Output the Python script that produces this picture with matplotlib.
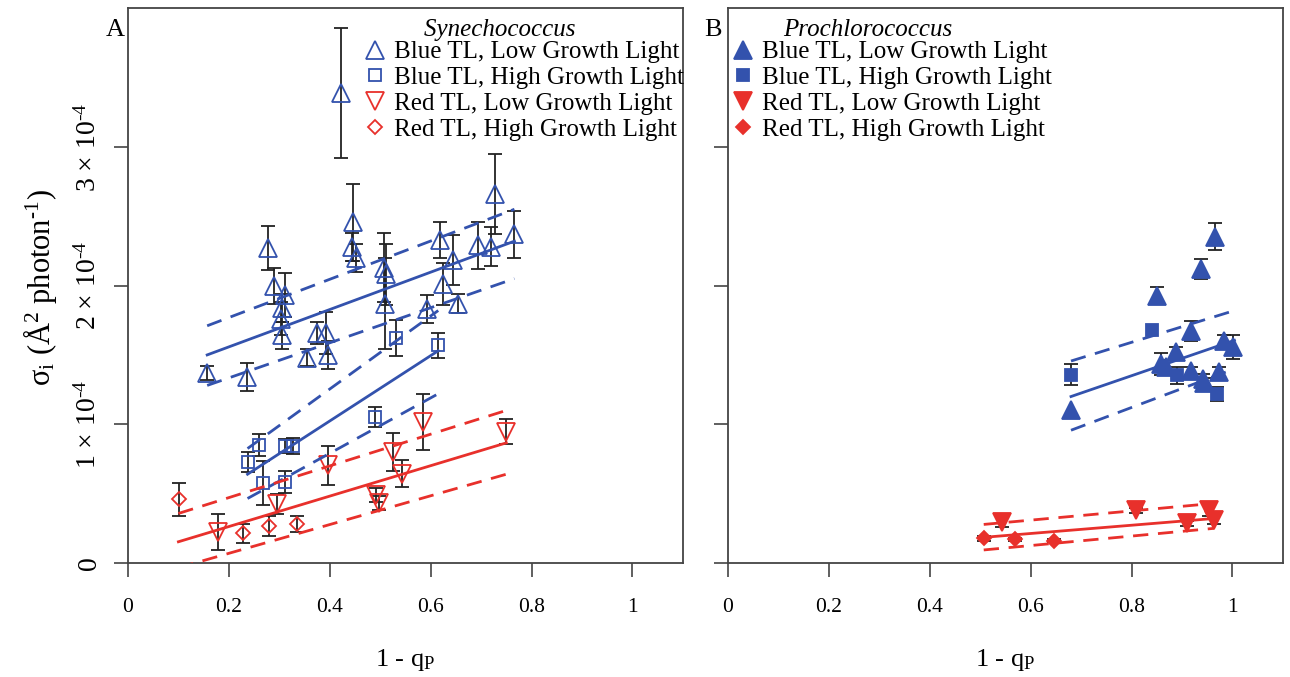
import numpy as np
import matplotlib
matplotlib.use('Agg')
import matplotlib.pyplot as plt
from matplotlib.lines import Line2D

plt.rcParams['font.family'] = ['Liberation Serif', 'DejaVu Serif']
plt.rcParams['mathtext.fontset'] = 'custom'
plt.rcParams['mathtext.rm'] = 'Liberation Serif'
plt.rcParams['mathtext.it'] = 'Liberation Serif:italic'
plt.rcParams['mathtext.default'] = 'regular'

BLUE = '#3352ad'
RED = '#e8302b'
EBAR = '#222222'
AXC = '#444444'

# values of sigma_i are in units of 1e-4 A^2 photon^-1

# --- panel A, Synechococcus ---
a_blue_low_x = [0.157, 0.235, 0.277, 0.289, 0.311, 0.306, 0.304, 0.306, 0.354, 0.375,
                0.392, 0.397, 0.422, 0.446, 0.444, 0.452, 0.508, 0.512, 0.509, 0.593,
                0.618, 0.624, 0.644, 0.654, 0.694, 0.720, 0.727, 0.766]
a_blue_low_y = [1.37, 1.34, 2.27, 2.00, 1.93, 1.84, 1.76, 1.64, 1.48, 1.66,
                1.66, 1.50, 3.39, 2.455, 2.28, 2.20, 2.13, 2.08, 1.87, 1.83,
                2.33, 2.01, 2.185, 1.87, 2.29, 2.28, 2.66, 2.37]
a_blue_low_err = [0.05, 0.10, 0.16, 0.13, 0.16, 0.10, 0.12, 0.10, 0.06, 0.08,
                  0.15, 0.10, 0.47, 0.28, 0.10, 0.10, 0.25, 0.22, 0.33, 0.10,
                  0.13, 0.15, 0.18, 0.07, 0.17, 0.14, 0.29, 0.17]

a_blue_high_x = [0.237, 0.259, 0.267, 0.311, 0.327, 0.311, 0.489, 0.531, 0.615]
a_blue_high_y = [0.729, 0.849, 0.578, 0.842, 0.844, 0.585, 1.053, 1.62, 1.57]
a_blue_high_err = [0.07, 0.08, 0.16, 0.05, 0.06, 0.08, 0.075, 0.13, 0.09]

a_red_low_x = [0.178, 0.296, 0.397, 0.491, 0.498, 0.525, 0.544, 0.585, 0.750]
a_red_low_y = [0.225, 0.424, 0.705, 0.489, 0.430, 0.800, 0.645, 1.017, 0.945]
a_red_low_err = [0.13, 0.07, 0.14, 0.05, 0.05, 0.135, 0.10, 0.20, 0.09]

a_red_high_x = [0.102, 0.228, 0.280, 0.335]
a_red_high_y = [0.46, 0.214, 0.268, 0.28]
a_red_high_err = [0.12, 0.07, 0.07, 0.06]

# regression lines: x ends, fit, upper and lower band
a_fit_blue_low = dict(x=[0.157, 0.766], fit=[1.50, 2.32], up=[1.71, 2.55], lo=[1.28, 2.05])
a_fit_blue_high = dict(x=[0.237, 0.615], fit=[0.64, 1.53], up=[0.825, 1.82], lo=[0.465, 1.22])
a_fit_red = dict(x=[0.10, 0.75], fit=[0.153, 0.866], up=[0.357, 1.10], lo=[-0.034, 0.64])

# --- panel B, Prochlorococcus ---
b_blue_low_x = [0.966, 0.937, 0.851, 0.918, 0.888, 0.984, 1.002, 0.859, 0.869, 0.918,
                0.941, 0.944, 0.974, 0.680]
b_blue_low_y = [2.353, 2.12, 1.928, 1.671, 1.52, 1.60, 1.557, 1.437, 1.413, 1.384,
                1.329, 1.30, 1.376, 1.106]
b_blue_low_err = [0.10, 0.07, 0.063, 0.07, 0.04, 0.04, 0.085, 0.08, 0.05, 0.03,
                  0.03, 0.03, 0.04, 0.0]

b_blue_high_x = [0.680, 0.840, 0.890, 0.970]
b_blue_high_y = [1.358, 1.68, 1.353, 1.22]
b_blue_high_err = [0.075, 0.0, 0.06, 0.05]

b_red_low_x = [0.543, 0.809, 0.910, 0.954, 0.964]
b_red_low_y = [0.297, 0.38, 0.286, 0.38, 0.31]
b_red_low_err = [0.04, 0.02, 0.02, 0.04, 0.03]

b_red_high_x = [0.507, 0.568, 0.647]
b_red_high_y = [0.178, 0.17, 0.16]
b_red_high_err = [0.02, 0.01, 0.01]

b_fit_blue = dict(x=[0.68, 1.004], fit=[1.20, 1.605], up=[1.456, 1.82], lo=[0.957, 1.40])
b_fit_red = dict(x=[0.507, 0.964], fit=[0.185, 0.321], up=[0.278, 0.43], lo=[0.094, 0.25])

legend_labels = ['Blue TL, Low Growth Light', 'Blue TL, High Growth Light',
                 'Red TL, Low Growth Light', 'Red TL, High Growth Light']
x_ticks = [0, 0.2, 0.4, 0.6, 0.8, 1]
x_ticklabels = ['0', '0.2', '0.4', '0.6', '0.8', '1']
y_ticks = [0, 1, 2, 3]
y_ticklabels = ['0', '1 × 10$^{\u20104}$', '2 × 10$^{\u20104}$', '3 × 10$^{\u20104}$']

styles = [('^', BLUE, 12.5), ('s', BLUE, 8.5), ('v', RED, 12.5), ('D', RED, 7.0)]


def draw_series(ax, x, y, err, style, filled):
    marker, color, ms = style
    x = np.asarray(x)
    y = np.asarray(y)
    err = np.asarray(err)
    m = err > 0
    ax.errorbar(x[m], y[m], yerr=err[m], fmt='none', ecolor=EBAR, elinewidth=1.3,
                capsize=5, capthick=1.3, zorder=2)
    ax.plot(x, y, linestyle='none', marker=marker, ms=ms,
            mfc=color if filled else 'none', mec=color, mew=1.3, zorder=3)


def draw_fit(ax, f, color):
    ax.plot(f['x'], f['fit'], color=color, lw=2.0, zorder=4)
    for k in ('up', 'lo'):
        ax.plot(f['x'], f[k], color=color, lw=2.0, dashes=(5.5, 3.5), zorder=4)


def setup(ax, show_ylabels):
    ax.set_xlim(0, 1.1)
    ax.set_ylim(0, 4)
    ax.set_xticks(x_ticks)
    ax.set_xticklabels(x_ticklabels, fontsize=15.5)
    ax.set_yticks(y_ticks)
    if show_ylabels:
        ax.set_yticklabels(y_ticklabels, fontsize=20, rotation=90, va='center')
    else:
        ax.set_yticklabels([])
    ax.tick_params(direction='out', length=10, width=1.2, color=AXC, pad=9)
    ax.tick_params(axis='x', pad=15)
    for s in ax.spines.values():
        s.set_linewidth(1.3)
        s.set_color(AXC)
    ax.text(0.5, -0.175, '1 - q$_P$', transform=ax.transAxes, ha='center', va='center',
            fontsize=19)


def add_legend(ax, title, filled, anchor):
    handles = []
    for marker, color, ms in styles:
        handles.append(Line2D([], [], linestyle='none', marker=marker, ms=ms,
                              mfc=color if filled else 'none', mec=color, mew=1.3))
    # trailing spaces pull the centred title a little to the left, as in the original
    leg = ax.legend(handles, legend_labels, loc='upper left', bbox_to_anchor=anchor,
                    frameon=False, fontsize=18, handlelength=0.8, handletextpad=0.35,
                    labelspacing=0.13, borderpad=0.0, title=title + ' ' * 8,
                    title_fontproperties={'style': 'italic', 'size': 18})
    leg._legend_box.sep = 0


fig = plt.figure(figsize=(12.9, 6.77), dpi=100)
axA = fig.add_axes([0.0992, 0.1684, 0.4302, 0.8196])
axB = fig.add_axes([0.5643, 0.1684, 0.4302, 0.8196])

# panel A
draw_series(axA, a_blue_low_x, a_blue_low_y, a_blue_low_err, styles[0], False)
draw_series(axA, a_blue_high_x, a_blue_high_y, a_blue_high_err, styles[1], False)
draw_series(axA, a_red_low_x, a_red_low_y, a_red_low_err, styles[2], False)
draw_series(axA, a_red_high_x, a_red_high_y, a_red_high_err, styles[3], False)
draw_fit(axA, a_fit_blue_low, BLUE)
draw_fit(axA, a_fit_blue_high, BLUE)
draw_fit(axA, a_fit_red, RED)
setup(axA, True)
add_legend(axA, 'Synechococcus', False, (0.405, 1.003))
axA.text(-0.023, 0.96, 'A', transform=axA.transAxes, ha='center', va='center', fontsize=19)
axA.text(-0.158, 0.497, 'σ$_i$ (Å$^2$ photon$^{\u20101}$)', transform=axA.transAxes,
         rotation=90, ha='center', va='center', fontsize=22)

# panel B
draw_series(axB, b_blue_low_x, b_blue_low_y, b_blue_low_err, styles[0], True)
draw_series(axB, b_blue_high_x, b_blue_high_y, b_blue_high_err, styles[1], True)
draw_series(axB, b_red_low_x, b_red_low_y, b_red_low_err, styles[2], True)
draw_series(axB, b_red_high_x, b_red_high_y, b_red_high_err, styles[3], True)
draw_fit(axB, b_fit_blue, BLUE)
draw_fit(axB, b_fit_red, RED)
setup(axB, False)
add_legend(axB, 'Prochlorococcus', True, (-0.013, 1.003))
axB.text(-0.027, 0.96, 'B', transform=axB.transAxes, ha='center', va='center', fontsize=19)

fig.savefig('out.png', dpi=100)
